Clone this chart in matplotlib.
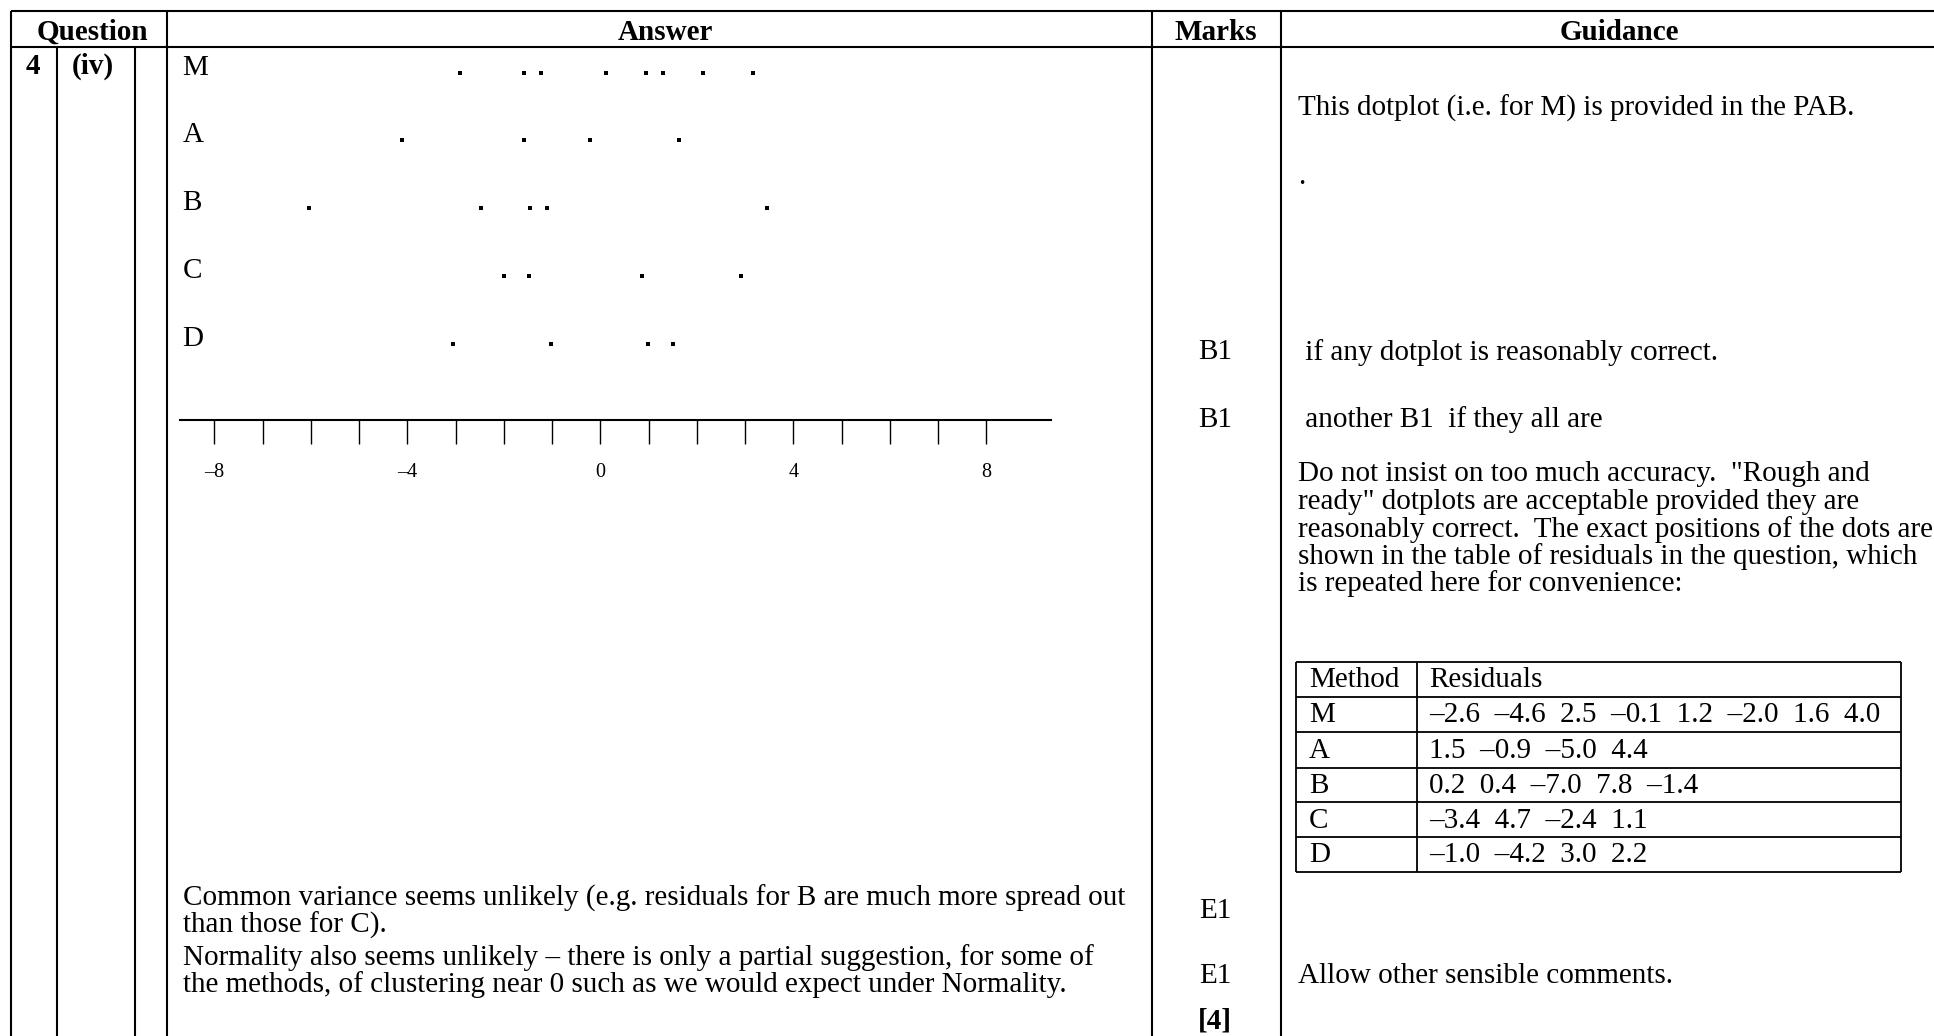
import matplotlib.pyplot as plt

plt.rcParams['font.family'] = ['Liberation Serif', 'DejaVu Serif']

# dotplot rows (positions of the dots as drawn, in residual units)
dot_rows = ['M', 'A', 'B', 'C', 'D']
m_dots = [-2.92, -1.58, -1.24, 0.12, 0.95, 1.30, 2.13, 3.16]
a_dots = [-4.11, -1.58, -0.22, 1.63]
b_dots = [-6.03, -2.47, -1.46, -1.11, 3.45]
c_dots = [-2.00, -1.49, 0.87, 2.91]
d_dots = [-3.05, -1.03, 0.99, 1.51]
axis_ticks = list(range(-8, 9))

# table of residuals repeated in the guidance column
table_methods = ['M', 'A', 'B', 'C', 'D']
m_resid = [-2.6, -4.6, 2.5, -0.1, 1.2, -2.0, 1.6, 4.0]
a_resid = [1.5, -0.9, -5.0, 4.4]
b_resid = [0.2, 0.4, -7.0, 7.8, -1.4]
c_resid = [-3.4, 4.7, -2.4, 1.1]
d_resid = [-1.0, -4.2, 3.0, 2.2]

headers = ['Question', 'Answer', 'Marks', 'Guidance']
answer_lines = [
    'Common variance seems unlikely (e.g. residuals for B are much more spread out',
    'than those for C).',
    'Normality also seems unlikely \u2013 there is only a partial suggestion, for some of',
    'the methods, of clustering near 0 such as we would expect under Normality.',
]
guidance_lines = [
    'Do not insist on too much accuracy.  "Rough and',
    'ready" dotplots are acceptable provided they are',
    'reasonably correct.  The exact positions of the dots are',
    'shown in the table of residuals in the question, which',
    'is repeated here for convenience:',
]


def fmt(v):
    return f'{v:.1f}'.replace('-', '\u2013')


W, H = 1934, 1036
fig = plt.figure(figsize=(W / 100, H / 100), dpi=100)
bg = fig.add_axes([0, 0, 1, 1])
bg.set_xlim(0, W)
bg.set_ylim(H, 0)
bg.axis('off')

FS = 21
lw = 1.5

# outer grid of the mark scheme
bg.hlines([11, 47], 10.7, W, color='black', lw=lw)
bg.vlines([10.7, 166.7, 1151.7, 1280.5], 11, H, color='black', lw=lw)
bg.vlines([57.3, 135], 47, H, color='black', lw=lw)

hdr_x = [92, 665, 1216, 1619]
for x, h in zip(hdr_x, headers):
    bg.text(x, 32, h, ha='center', va='center', fontsize=FS, fontweight='bold')
bg.text(26, 66, '4', ha='left', va='center', fontsize=FS, fontweight='bold')
bg.text(72, 66, '(iv)', ha='left', va='center', fontsize=FS, fontweight='bold')

# answer text under the dotplot
for y, s in zip([898, 925, 958, 985], answer_lines):
    bg.text(183, y, s, ha='left', va='center', fontsize=FS)

# marks column
for y, s in zip([352, 420, 911, 976], ['B1', 'B1', 'E1', 'E1']):
    bg.text(1215, y, s, ha='center', va='center', fontsize=FS)
bg.text(1215, 1021, '[4]', ha='center', va='center', fontsize=FS, fontweight='bold')

# guidance column
bg.text(1298, 108, 'This dotplot (i.e. for M) is provided in the PAB.', ha='left', va='center', fontsize=FS)
bg.text(1298, 184, '.', ha='left', va='baseline', fontsize=FS)
bg.text(1298, 353, ' if any dotplot is reasonably correct.', ha='left', va='center', fontsize=FS)
bg.text(1298, 420, ' another B1  if they all are', ha='left', va='center', fontsize=FS)
for y, s in zip([474, 502, 530, 557, 584], guidance_lines):
    bg.text(1298, y, s, ha='left', va='center', fontsize=FS)
bg.text(1298, 976, 'Allow other sensible comments.', ha='left', va='center', fontsize=FS)

# residual table
resid_rows = [m_resid, a_resid, b_resid, c_resid, d_resid]
row_lines = [662, 696.5, 732, 767.5, 802, 837, 872]
t_left, t_mid, t_right = 1296, 1416.5, 1901
bg.hlines(row_lines, t_left, t_right, color='black', lw=1.3)
bg.vlines([t_left, t_mid, t_right], row_lines[0], row_lines[-1], color='black', lw=1.3)
cells = [('Method', 'Residuals')] + [(m, '  '.join(fmt(v) for v in r))
                                    for m, r in zip(table_methods, resid_rows)]
for i, (a, b) in enumerate(cells):
    yc = (row_lines[i] + row_lines[i + 1]) / 2
    bg.text(1309, yc + 1, a, ha='left', va='center', fontsize=FS)
    bg.text(1429, yc + 1, b, ha='left', va='center', fontsize=FS)

# dotplot on its own axes: 0 at x=600.4 px, 48.25 px per unit
ax_l, ax_r, ax_t, ax_b = 180, 1051, 47, 420
ax = fig.add_axes([ax_l / W, 1 - ax_b / H, (ax_r - ax_l) / W, (ax_b - ax_t) / H])
ax.patch.set_alpha(0)
ax.set_xlim((ax_l - 600.4) / 48.25, (ax_r - 600.4) / 48.25)
row_gap, row0 = 67.75, 72.7
ax.set_ylim((ax_b - row0) / row_gap, (ax_t - row0) / row_gap)
for s in ['top', 'left', 'right']:
    ax.spines[s].set_visible(False)
ax.spines['bottom'].set_linewidth(1.5)

all_dots = [m_dots, a_dots, b_dots, c_dots, d_dots]
for i, (name, xs) in enumerate(zip(dot_rows, all_dots)):
    ax.plot(xs, [i] * len(xs), 's', color='black', ms=3, mew=0)
    ax.text(-8.66, i + 0.03, name, ha='left', va='baseline', fontsize=FS)

ax.set_xticks(axis_ticks)
ax.set_xticklabels([fmt(t)[:-2] if t % 4 == 0 else '' for t in axis_ticks], fontsize=14.5)
ax.tick_params(axis='x', direction='out', length=17.3, width=1, pad=14)
ax.set_yticks([])

fig.savefig('out.png', dpi=100)
